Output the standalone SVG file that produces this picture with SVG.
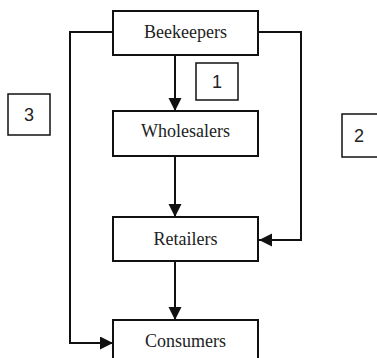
<svg xmlns="http://www.w3.org/2000/svg" width="377" height="358" viewBox="0 0 377 358">
<defs>
<marker id="arr" markerWidth="12" markerHeight="14" refX="13" refY="6.5" orient="auto" markerUnits="userSpaceOnUse">
<path d="M0,0 L13,6.5 L0,13 Z" fill="#111"/>
</marker>
<style>
.box{fill:#fff;stroke:#111;stroke-width:2}
.lbl{fill:#fff;stroke:#111;stroke-width:1.5}
.t{font-family:"Liberation Serif","Times New Roman",serif;font-size:18px;fill:#222;text-anchor:middle}
.n{font-family:"Liberation Sans",Arial,sans-serif;font-size:18px;fill:#222;text-anchor:middle}
.c{fill:none;stroke:#111;stroke-width:2}
</style>
</defs>
<rect width="377" height="358" fill="#fff"/>
<g id="connectors">
<path class="c" d="M175,55 V111" marker-end="url(#arr)"/>
<path class="c" d="M175,156 V217" marker-end="url(#arr)"/>
<path class="c" d="M175,261 V320" marker-end="url(#arr)"/>
<path class="c" d="M113,32 H70 V343 H113" marker-end="url(#arr)"/>
<path class="c" d="M258,32 H301 V240 H259" marker-end="url(#arr)"/>
</g>
<g id="beekeepers"><rect class="box" x="113" y="11" width="145" height="44"/><text class="t" x="185.5" y="38">Beekeepers</text></g>
<g id="wholesalers"><rect class="box" x="113" y="111" width="145" height="45"/><text class="t" x="185.5" y="137">Wholesalers</text></g>
<g id="retailers"><rect class="box" x="113" y="217" width="145" height="44"/><text class="t" x="185.5" y="245">Retailers</text></g>
<g id="consumers"><rect class="box" x="113" y="320" width="145" height="44"/><text class="t" x="185.5" y="347">Consumers</text></g>
<g id="label1"><rect class="lbl" x="196" y="63" width="42" height="37"/><text class="n" x="217" y="88">1</text></g>
<g id="label2"><rect class="lbl" x="342" y="114" width="40" height="43"/><text class="n" x="359" y="142">2</text></g>
<g id="label3"><rect class="lbl" x="8" y="94" width="42" height="41"/><text class="n" x="29" y="121">3</text></g>
</svg>
